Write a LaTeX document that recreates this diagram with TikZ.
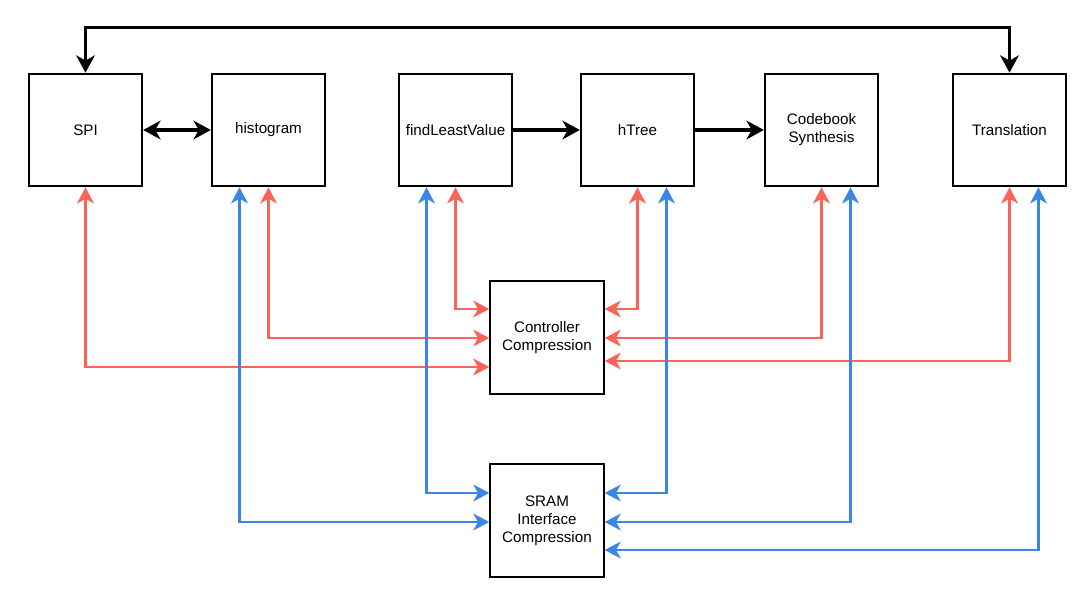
\documentclass[tikz,border=0pt]{standalone}
\usepackage{fontspec}
\setmainfont{Liberation Sans}
\usetikzlibrary{arrows.meta,calc}
\definecolor{redc}{RGB}{250,100,88}
\definecolor{bluec}{RGB}{58,134,228}
\begin{document}
\begin{tikzpicture}[x=0.75pt,y=-0.75pt,
  blockbox/.style={draw=black,line width=1.5pt,fill=white,minimum width=85pt,minimum height=84.5pt,inner sep=0pt,align=center,font=\fontsize{11.4}{13.5}\selectfont},
  blk/.style={line width=2.3pt,{Stealth[length=13pt,width=14pt,inset=4pt]}-{Stealth[length=13pt,width=14pt,inset=4pt]}},
  blkone/.style={line width=2.3pt,-{Stealth[length=13pt,width=14pt,inset=4pt]}},
  redl/.style={draw=redc,line width=1.9pt,{Stealth[length=12pt,width=12.5pt,inset=3.5pt]}-{Stealth[length=12pt,width=12.5pt,inset=3.5pt]}},
  bluel/.style={draw=bluec,line width=1.9pt,{Stealth[length=12pt,width=12.5pt,inset=3.5pt]}-{Stealth[length=12pt,width=12.5pt,inset=3.5pt]}}]
\useasboundingbox (0,0) rectangle (1088,604);
\node[blockbox] (spi) at (85.5,130) {SPI};
\node[blockbox] (hist) at (268.5,130) {histogram};
\node[blockbox] (flv) at (455.5,130) {findLeastValue};
\node[blockbox] (htree) at (637.5,130) {hTree};
\node[blockbox] (cb) at (821.5,130) {Codebook\\Synthesis};
\node[blockbox] (tr) at (1009.5,130) {Translation};
\node[blockbox] (ctrl) at (547,337.5) {Controller\\Compression};
\node[blockbox] (sram) at (547,520.5) {SRAM\\Interface\\Compression};
% black
\draw[blk] (spi.north) -- ++(0,-45) -| (tr.north);
\draw[blk] (spi.east) -- (hist.west);
\draw[blkone] (flv.east) -- (htree.west);
\draw[blkone] (htree.east) -- (cb.west);
% red
\draw[redl] (spi.south) |- ($(ctrl.west)+(0,29.5)$);
\draw[redl] (hist.south) |- ($(ctrl.west)+(0,0.5)$);
\draw[redl] (flv.south) |- ($(ctrl.west)+(0,-28.5)$);
\draw[redl] (htree.south) |- ($(ctrl.east)+(0,-28.5)$);
\draw[redl] (cb.south) |- ($(ctrl.east)+(0,0.5)$);
\draw[redl] (tr.south) |- ($(ctrl.east)+(0,23.5)$);
% blue
\draw[bluel] ($(hist.south)+(-29,0)$) |- ($(sram.west)+(0,1.5)$);
\draw[bluel] ($(flv.south)+(-29,0)$) |- ($(sram.west)+(0,-27.5)$);
\draw[bluel] ($(htree.south)+(29,0)$) |- ($(sram.east)+(0,-27.5)$);
\draw[bluel] ($(cb.south)+(29,0)$) |- ($(sram.east)+(0,1.5)$);
\draw[bluel] ($(tr.south)+(29,0)$) |- ($(sram.east)+(0,29.5)$);
\end{tikzpicture}
\end{document}
